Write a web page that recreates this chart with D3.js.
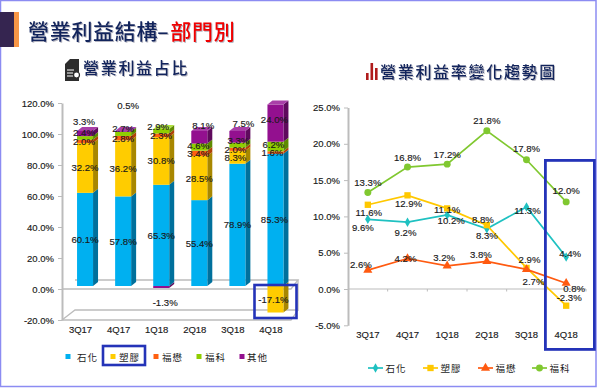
<!DOCTYPE html>
<html>
<head>
<meta charset="utf-8">
<script src="https://cdn.jsdelivr.net/npm/d3@7"></script>
<style>
    html, body { margin: 0; padding: 0; background: #fff; }
    svg { display: block; }
    text { font-family: "Liberation Sans", Arial, sans-serif; fill: #1a1a1a; }
    .cjk { font-family: "Noto Sans CJK TC", sans-serif; }
    .heading { font-weight: 500; filter: drop-shadow(1px 1px 0 #b5b5c0); }
    .axis path, .axis line { stroke: #bcbcbc; }
    .axis path { stroke-width: 2; }
    .axis text { font-size: 9.5px; stroke: #1a1a1a; stroke-width: 0.15px; }
    .val { font-size: 9.6px; text-anchor: middle; dominant-baseline: central; stroke: #1a1a1a; stroke-width: 0.15px; }
</style>
</head>
<body>
<div id="page"></div>
<script>
var quarters = ['3Q17', '4Q17', '1Q18', '2Q18', '3Q18', '4Q18'];

// left chart, share of operating profit (%)
var shareNames = ['石化', '塑膠', '福懋', '福科', '其他'];
var sharePetro = [60.1, 57.8, 65.3, 55.4, 78.9, 85.3];
var sharePlastic = [32.2, 36.2, 30.8, 28.5, 8.3, -17.1];
var shareFm = [2.0, 2.8, 2.3, 3.4, 2.0, 1.6];
var shareFk = [2.4, 2.7, 2.9, 4.6, 3.3, 6.2];
var shareOther = [3.3, 0.5, -1.3, 8.1, 7.5, 24.0];
var shareTicks = [-20, 0, 20, 40, 60, 80, 100, 120];

// right chart, operating margin (%)
var marginNames = ['石化', '塑膠', '福懋', '福科'];
var marginPetro = [9.6, 9.2, 10.2, 8.3, 11.3, 4.4];
var marginPlastic = [11.6, 12.9, 11.1, 8.8, 2.9, -2.3];
var marginFm = [2.6, 4.2, 3.2, 3.8, 2.7, 0.8];
var marginFk = [13.3, 16.8, 17.2, 21.8, 17.8, 12.0];
var marginTicks = [-5, 0, 5, 10, 15, 20, 25];

var shareColors = ['#00b0f0', '#ffcc00', '#ff6010', '#8fce00', '#93108f'];
var shareSides = ['#00709c', '#a88700', '#b04208', '#5f8a00', '#5f0a5d'];
var shareTops = ['#40c8f8', '#ffdd55', '#ff8a50', '#b0e040', '#a93fa8'];
var marginColors = ['#1fc1c1', '#ffc800', '#ff5a10', '#80c830'];

// label nudges [dx, dy] per series, per quarter, where the source moved them off the segment centre
var shareNudge = [
    [[0, 0], [0, 0], [0, 0], [0, 0], [0, 0], [-1, 0]],
    [[0, 0], [0, 0], [0, 0], [0, 0], [-2, 0], [-2, 0]],
    [[-1, 0], [0, 0], [0, 0], [-1, 0], [-2, 0], [-3, 0]],
    [[-1, -5], [0, -5], [-3, -5], [-1, -2], [1, -5], [-2, -2]],
    [[-1, -12], [5, -26], [4, 15], [4, -12], [6, -13], [-1, -4]]
];
var marginNudge = [
    [[-5, 8], [-2, 10], [4, 6], [0, 7], [1, 4], [4, -4]],
    [[1, 8], [1, 8], [0, 1], [-4, -6], [3, -8], [3, -8]],
    [[-7, -6], [-2, 0], [-3, -8], [-6, -7], [7, 12], [8, 5]],
    [[0, -10], [0, -10], [0, -10], [0, -10], [0, -11], [0, -11]]
];

var width = 597, height = 388;
var svg = d3.select('#page').append('svg').attr('width', width).attr('height', height);

function drawFrame() {
    svg.append('rect').attr('x', 0.5).attr('y', 0.5).attr('width', 595.5).attr('height', 386)
        .attr('fill', 'none').attr('stroke', '#8c8cf2').attr('stroke-width', 1.5);
    svg.append('rect').attr('x', 0).attr('y', 12).attr('width', 14).attr('height', 35).attr('fill', '#352550');
    svg.append('rect').attr('x', 14).attr('y', 12).attr('width', 5).attr('height', 35).attr('fill', '#f79646');

    var title = svg.append('text').attr('class', 'cjk heading').attr('x', 28).attr('y', 39)
        .style('font-size', '21px').style('letter-spacing', '0.7px');
    title.append('tspan').style('fill', '#12245c').text('營業利益結構');
    title.append('tspan').style('fill', '#12245c').attr('dx', -1).text('–');
    title.append('tspan').style('fill', '#f00000').attr('dx', 1).text('部門別');

    svg.append('text').attr('class', 'cjk heading').attr('x', 83).attr('y', 74)
        .style('font-size', '16px').style('letter-spacing', '1.7px').style('fill', '#12245c').text('營業利益占比');
    svg.append('text').attr('class', 'cjk heading').attr('x', 380).attr('y', 78)
        .style('font-size', '16px').style('letter-spacing', '1.7px').style('fill', '#12245c').text('營業利益率變化趨勢圖');

    // document icon
    svg.append('path').attr('fill', '#2d2d2d')
        .attr('d', 'M70 59H79V81H65V64Z');
    svg.append('path').attr('stroke', '#fff').attr('stroke-width', 1).attr('fill', 'none')
        .attr('d', 'M67 70H74M67 73H73M67 76H73');
    svg.append('circle').attr('cx', 76.5).attr('cy', 75).attr('r', 3)
        .attr('fill', '#fff').attr('stroke', '#2d2d2d').attr('stroke-width', 1.2);

    // bars icon
    [[366, 73, 7], [370.5, 63, 17], [375, 68, 12]].forEach(function (b) {
        svg.append('rect').attr('x', b[0]).attr('y', b[1]).attr('width', 2.6).attr('height', b[2]).attr('fill', '#b01c1c');
    });
}

function drawShareChart() {
    var series = [sharePetro, sharePlastic, shareFm, shareFk, shareOther];
    var y = d3.scaleLinear().domain([-20, 120]).range([320, 103]);
    var x = d3.scaleBand().domain(quarters).range([66, 294.5]).paddingInner(0.58).paddingOuter(0.29);
    var depthX = 5, depthY = 4, lift = 3;
    var g = svg.append('g');

    // floor of the 3d box
    var floor = g.append('g').attr('fill', 'none').attr('stroke', '#bcbcbc').attr('stroke-width', 1.3);
    floor.append('path').attr('d', 'M62 ' + y(-20) + 'L75 ' + (y(-20) - 10) + 'H298V' + (y(0) - 9));
    floor.append('path').attr('d', 'M62 ' + y(-20) + 'H291L298 ' + (y(-20) - 10));
    floor.append('path').attr('d', 'M62 ' + y(0) + 'H291L298 ' + (y(0) - 9) + 'H75');

    g.append('g').attr('class', 'axis').attr('transform', 'translate(62,0)')
        .call(d3.axisLeft(y).tickValues(shareTicks).tickSize(4).tickSizeOuter(0).tickPadding(4)
            .tickFormat(function (d) { return d.toFixed(1) + '%'; }));

    g.append('g').attr('class', 'axis').attr('transform', 'translate(-4.5,' + (y(-20)) + ')')
        .call(d3.axisBottom(x).tickSize(0).tickPadding(6))
        .call(function (s) { s.select('.domain').remove(); });

    function box(q, from, to, idx, withTop) {
        var x0 = x(q), x1 = x0 + x.bandwidth();
        var yTop = Math.min(y(from), y(to)) - lift, yBot = Math.max(y(from), y(to)) - lift;
        g.append('path').attr('fill', shareSides[idx])
            .attr('d', 'M' + x1 + ' ' + yTop + 'l' + depthX + ' ' + (-depthY) + 'V' + (yBot - depthY) + 'L' + x1 + ' ' + yBot + 'Z');
        g.append('rect').attr('x', x0).attr('y', yTop).attr('width', x.bandwidth()).attr('height', yBot - yTop)
            .attr('fill', shareColors[idx]);
        if (withTop) {
            g.append('path').attr('fill', shareTops[idx])
                .attr('d', 'M' + x0 + ' ' + yTop + 'l' + depthX + ' ' + (-depthY) + 'H' + (x1 + depthX) + 'L' + x1 + ' ' + yTop + 'Z');
        }
    }

    var labels = [];
    quarters.forEach(function (q, i) {
        var pos = 0, neg = 0;
        var lastPos = -1;
        series.forEach(function (s, k) { if (s[i] > 0) { lastPos = k; } });
        // negatives go first so the stack above sits over them
        series.forEach(function (s, k) {
            var v = s[i];
            if (v < 0) {
                box(q, neg, neg + v, k, false);
                labels.push({q: q, mid: neg + v / 2, v: v, k: k, i: i});
                neg += v;
            }
        });
        series.forEach(function (s, k) {
            var v = s[i];
            if (v > 0) {
                box(q, pos, pos + v, k, k === lastPos);
                labels.push({q: q, mid: pos + v / 2, v: v, k: k, i: i});
                pos += v;
            }
        });
    });

    g.append('g').selectAll('text').data(labels).enter().append('text')
        .attr('class', 'val')
        .attr('x', function (d) { return x(d.q) + x.bandwidth() / 2 + shareNudge[d.k][d.i][0]; })
        .attr('y', function (d) { return y(d.mid) - lift + shareNudge[d.k][d.i][1]; })
        .text(function (d) { return d.v.toFixed(1) + '%'; });

    // legend
    var legendX = [68, 113, 156, 199, 242];
    var legendGap = [9, 6, 6, 6, 5];
    var legend = g.append('g').selectAll('g').data(shareNames).enter().append('g')
        .attr('transform', function (d, i) { return 'translate(' + legendX[i] + ',356.5)'; });
    legend.append('rect').attr('x', -2.5).attr('y', -2.5).attr('width', 5).attr('height', 5)
        .attr('fill', function (d, i) { return shareColors[i]; });
    legend.append('text').attr('class', 'cjk').attr('x', function (d, i) { return legendGap[i]; }).attr('y', 4)
        .style('font-size', '9.5px').style('letter-spacing', '1px').text(function (d) { return d; });

    // highlight boxes
    var marks = g.append('g').attr('fill', 'none').attr('stroke', '#2433b8').attr('stroke-width', 2.6);
    marks.append('rect').attr('x', 254.5).attr('y', 285).attr('width', 42).attr('height', 33);
    marks.append('rect').attr('x', 103).attr('y', 346).attr('width', 42).attr('height', 19);
}

function drawMarginChart() {
    var series = [marginPetro, marginPlastic, marginFm, marginFk];
    var symbols = [d3.symbolDiamond, d3.symbolSquare, d3.symbolTriangle, d3.symbolCircle];
    var symbolSizes = [26, 40, 36, 38];
    var y = d3.scaleLinear().domain([-5, 25]).range([325.3, 107.5]);
    var x = d3.scaleBand().domain(quarters).range([348, 586]);
    var g = svg.append('g');

    g.append('g').attr('class', 'axis').attr('transform', 'translate(348,0)')
        .call(d3.axisLeft(y).tickValues(marginTicks).tickSize(4).tickSizeOuter(0).tickPadding(4)
            .tickFormat(function (d) { return d.toFixed(1) + '%'; }));

    // zero line with the category ticks on it
    var zero = g.append('g').attr('stroke', '#bcbcbc');
    zero.append('line').attr('x1', 348).attr('x2', 586).attr('y1', y(0)).attr('y2', y(0)).attr('stroke-width', 1.2);
    zero.selectAll('.t').data(quarters).enter().append('line').attr('class', 't')
        .attr('x1', function (d) { return x(d) + x.step(); })
        .attr('x2', function (d) { return x(d) + x.step(); })
        .attr('y1', y(0)).attr('y2', y(0) + 2.5);

    g.append('g').attr('class', 'axis').attr('transform', 'translate(0,' + y(-5) + ')')
        .call(d3.axisBottom(x).tickSize(0).tickPadding(6))
        .call(function (s) { s.select('.domain').remove(); });

    var line = d3.line()
        .x(function (d, i) { return x(quarters[i]) + x.bandwidth() / 2; })
        .y(function (d) { return y(d); });

    series.forEach(function (s, k) {
        g.append('path').datum(s).attr('fill', 'none').attr('stroke', marginColors[k]).attr('stroke-width', 1.7).attr('d', line);
        g.selectAll('.m' + k).data(s).enter().append('path').attr('class', 'm' + k)
            .attr('fill', marginColors[k])
            .attr('transform', function (d, i) { return 'translate(' + (x(quarters[i]) + x.bandwidth() / 2) + ',' + y(d) + ')'; })
            .attr('d', d3.symbol().type(symbols[k]).size(symbolSizes[k]));
    });

    series.forEach(function (s, k) {
        g.selectAll('.l' + k).data(s).enter().append('text').attr('class', 'val l' + k)
            .attr('x', function (d, i) { return x(quarters[i]) + x.bandwidth() / 2 + marginNudge[k][i][0]; })
            .attr('y', function (d, i) { return y(d) + marginNudge[k][i][1]; })
            .text(function (d) { return d.toFixed(1) + '%'; });
    });

    // legend
    var legendX = [368, 423, 478, 532];
    var legend = g.append('g').selectAll('g').data(marginNames).enter().append('g')
        .attr('transform', function (d, i) { return 'translate(' + legendX[i] + ',368)'; });
    legend.append('line').attr('x2', 15).attr('stroke-width', 1.7)
        .attr('stroke', function (d, i) { return marginColors[i]; });
    legend.append('path').attr('transform', 'translate(7.5,0)')
        .attr('fill', function (d, i) { return marginColors[i]; })
        .attr('d', function (d, i) { return d3.symbol().type(symbols[i]).size(symbolSizes[i])(); });
    legend.append('text').attr('class', 'cjk').attr('x', 17.5).attr('y', 4)
        .style('font-size', '9.5px').style('letter-spacing', '1px').text(function (d) { return d; });

    g.append('rect').attr('x', 545.4).attr('y', 160.4).attr('width', 49).attr('height', 189)
        .attr('fill', 'none').attr('stroke', '#2433b8').attr('stroke-width', 2.8);
}

drawFrame();
drawShareChart();
drawMarginChart();
</script>
</body>
</html>
